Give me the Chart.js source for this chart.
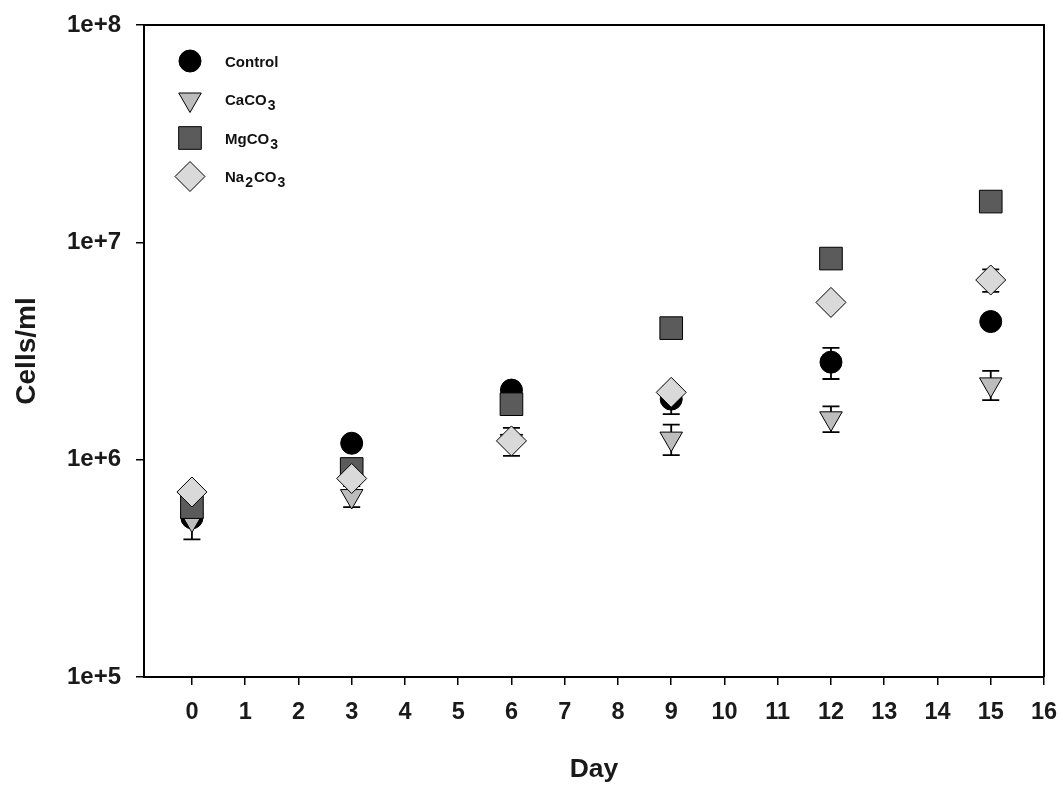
<!DOCTYPE html>
<html>
<head>
<meta charset="utf-8">
<script src="https://cdn.jsdelivr.net/npm/chart.js@4/dist/chart.umd.min.js"></script>
<style>
  html, body { margin: 0; padding: 0; background: #fff; }
  #wrap { width: 1063px; height: 789px; }
</style>
</head>
<body>
<div id="wrap"><canvas id="c" width="1063" height="789"></canvas></div>
<script>
// Sampling days and axis ticks
const days = [0, 3, 6, 9, 12, 15];
const dayTicks = [0, 1, 2, 3, 4, 5, 6, 7, 8, 9, 10, 11, 12, 13, 14, 15, 16];
const decadeTicks = [1e5, 1e6, 1e7, 1e8];
const seriesNames = ['Control', 'CaCO3', 'MgCO3', 'Na2CO3'];

// Cell densities (cells/ml) and their error (± cells/ml)
const controlCells = [5.4e5, 1.19e6, 2.09e6, 1.90e6, 2.81e6, 4.32e6];
const controlErr   = [0, 0, 0, 0.28e6, 0.46e6, 0];
const caco3Cells   = [5.3e5, 6.8e5, 1.22e6, 1.25e6, 1.55e6, 2.22e6];
const caco3Err     = [1.0e5, 0.75e5, 0.18e6, 0.20e6, 0.21e6, 0.34e6];
const mgco3Cells   = [6.05e5, 9.06e5, 1.80e6, 4.03e6, 8.42e6, 1.54e7];
const mgco3Err     = [0, 0, 0, 0, 0, 0];
const na2co3Cells  = [7.1e5, 8.19e5, 1.22e6, 2.04e6, 5.29e6, 6.71e6];
const na2co3Err    = [0, 0, 0, 0, 0, 0.8e6];

const FONT = '"Liberation Sans", Arial, sans-serif';

const styles = [
  { pointStyle: 'circle',   radius: 11, rotation: 0,   fill: '#000000' },
  { pointStyle: 'triangle', radius: 13, rotation: 180, fill: '#bdbdbd' },
  { pointStyle: 'rect',     radius: 16, rotation: 0,   fill: '#5b5b5b' },
  { pointStyle: 'rectRot',  radius: 15, rotation: 0,   fill: '#d9d9d9' }
];
const values = [controlCells, caco3Cells, mgco3Cells, na2co3Cells];
const errors = [controlErr, caco3Err, mgco3Err, na2co3Err];

const datasets = seriesNames.map((name, i) => ({
  label: name,
  data: days.map((d, k) => ({ x: d, y: values[i][k] })),
  errors: errors[i],
  showLine: false,
  order: seriesNames.length - i,
  pointStyle: styles[i].pointStyle,
  pointRadius: styles[i].radius,
  pointHoverRadius: styles[i].radius,
  pointRotation: styles[i].rotation,
  pointBackgroundColor: styles[i].fill,
  pointBorderColor: '#000',
  pointBorderWidth: 1,
  backgroundColor: styles[i].fill,
  borderColor: '#000'
}));

// Vertical error bars with caps, drawn just beneath each series' markers
const errorBars = {
  id: 'errorBars',
  beforeDatasetDraw(chart, args) {
    const ds = chart.data.datasets[args.index];
    const { x: xs, y: ys } = chart.scales;
    const ctx = chart.ctx;
    ctx.save();
    ctx.strokeStyle = '#000';
    ctx.lineWidth = 1.8;
    ds.data.forEach((p, k) => {
      const e = ds.errors[k];
      if (!e) return;
      const px = xs.getPixelForValue(p.x);
      const top = ys.getPixelForValue(p.y + e);
      const bot = ys.getPixelForValue(Math.max(p.y - e, 1));
      ctx.beginPath();
      ctx.moveTo(px, top); ctx.lineTo(px, bot);
      ctx.moveTo(px - 8.5, top); ctx.lineTo(px + 8.5, top);
      ctx.moveTo(px - 8.5, bot); ctx.lineTo(px + 8.5, bot);
      ctx.stroke();
    });
    ctx.restore();
  }
};

// Closes the plot frame on top and right
const frame = {
  id: 'frame',
  afterDraw(chart) {
    const { left, top, right, bottom } = chart.chartArea;
    const ctx = chart.ctx;
    ctx.save();
    ctx.strokeStyle = '#000';
    ctx.lineWidth = 2;
    ctx.beginPath();
    ctx.moveTo(left, top); ctx.lineTo(right, top); ctx.lineTo(right, bottom);
    ctx.stroke();
    ctx.restore();
  }
};

// Legend in the upper-left corner of the plot, with chemical subscripts
const insetLegend = {
  id: 'insetLegend',
  afterDatasetsDraw(chart) {
    const ctx = chart.ctx;
    const x0 = chart.chartArea.left + 46;
    const y0 = chart.chartArea.top + 36;
    const step = 38.5;
    chart.data.datasets.forEach((ds, i) => {
      const cy = y0 + i * step;
      ctx.save();
      ctx.fillStyle = ds.pointBackgroundColor;
      ctx.strokeStyle = '#000';
      ctx.lineWidth = 1;
      Chart.helpers.drawPoint(ctx, {
        pointStyle: ds.pointStyle,
        radius: ds.pointRadius,
        rotation: ds.pointRotation,
        borderWidth: 1
      }, x0, cy);
      ctx.restore();

      ctx.save();
      ctx.fillStyle = '#111';
      ctx.textBaseline = 'alphabetic';
      let tx = x0 + 35;
      const base = cy + 5.5;
      ds.label.split(/(\d+)/).forEach(part => {
        if (!part) return;
        const sub = /^\d+$/.test(part);
        ctx.font = (sub ? 'bold 14px ' : 'bold 15px ') + FONT;
        ctx.fillText(part, tx, sub ? base + 5 : base);
        tx += ctx.measureText(part).width + 1;
      });
      ctx.restore();
    });
  }
};

// Fixed axis box sizes; edge labels may overhang into the page margin
const fixBox = size => s => {
  if (s.isHorizontal()) s.height = size; else s.width = size;
  s.paddingTop = 0; s.paddingBottom = 0; s.paddingLeft = 0; s.paddingRight = 0;
};

new Chart(document.getElementById('c'), {
  type: 'scatter',
  data: { datasets },
  plugins: [errorBars, insetLegend, frame],
  options: {
    responsive: false,
    devicePixelRatio: 1,
    animation: false,
    layout: { padding: { left: 0, top: 25, right: 19, bottom: 0 } },
    plugins: { legend: { display: false }, tooltip: { enabled: false } },
    scales: {
      x: {
        type: 'linear',
        min: -0.9,
        max: 16,
        afterBuildTicks: s => { s.ticks = dayTicks.map(v => ({ value: v })); },
        afterFit: fixBox(112),
        ticks: {
          autoSkip: false, maxRotation: 0, padding: 13,
          color: '#1a1a1a',
          font: { family: FONT, size: 23.5, weight: 'bold' }
        },
        grid: { drawOnChartArea: false, drawTicks: true, tickLength: 8, color: '#000', lineWidth: 1.5 },
        border: { color: '#000', width: 2 },
        title: {
          display: true, text: 'Day', color: '#1a1a1a',
          font: { family: FONT, size: 26.5, weight: 'bold' },
          padding: { top: 0, bottom: 3 }
        }
      },
      y: {
        type: 'logarithmic',
        min: 1e5,
        max: 1e8,
        afterBuildTicks: s => { s.ticks = decadeTicks.map(v => ({ value: v, major: true })); },
        afterFit: fixBox(144),
        ticks: {
          padding: 15,
          color: '#1a1a1a',
          font: { family: FONT, size: 24, weight: 'bold' },
          callback: v => '1e+' + Math.round(Math.log10(v))
        },
        grid: { drawOnChartArea: false, drawTicks: true, tickLength: 8, color: '#000', lineWidth: 1.5 },
        border: { color: '#000', width: 2 },
        title: {
          display: true, text: 'Cells/ml', color: '#1a1a1a',
          font: { family: FONT, size: 28, weight: 'bold' },
          padding: { top: 10, bottom: 0 }
        }
      }
    }
  }
});
</script>
</body>
</html>
